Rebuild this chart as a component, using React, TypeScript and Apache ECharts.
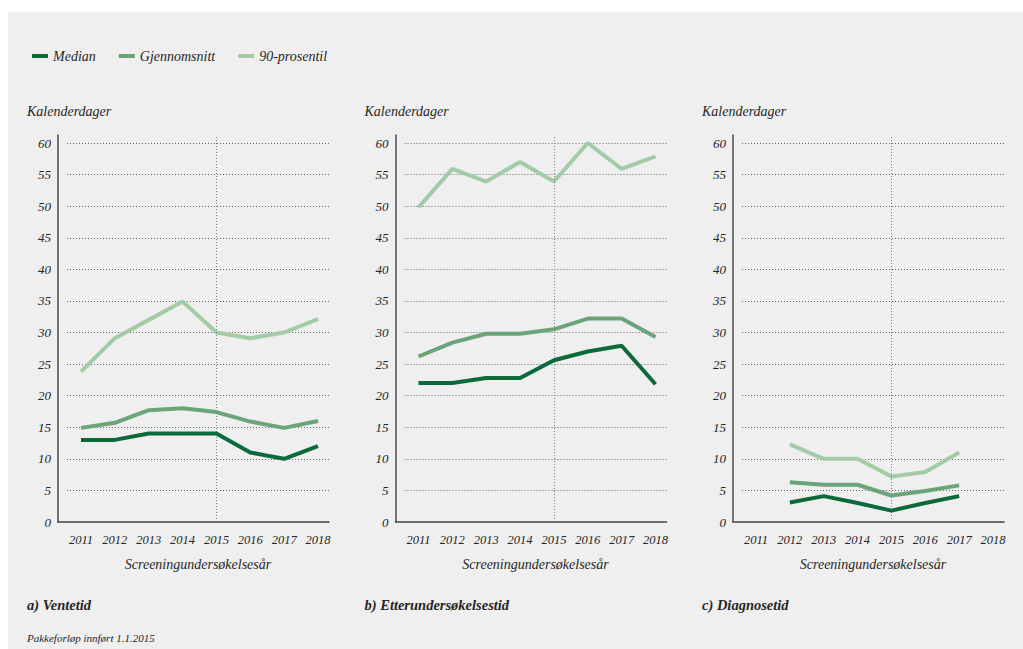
import React, { useEffect, useRef } from "react";
import * as echarts from "echarts";

// ---- data ----
const years = [2011, 2012, 2013, 2014, 2015, 2016, 2017, 2018];
const seriesNames = ["Median", "Gjennomsnitt", "90-prosentil"];

const ventetidMedian = [13, 13, 14, 14, 14, 11, 10, 12];
const ventetidSnitt = [14.9, 15.7, 17.7, 18.0, 17.4, 15.9, 14.9, 16.0];
const ventetid90 = [23.8, 29.1, 32, 34.9, 30, 29.1, 30, 32.1];

const etterMedian = [22, 22, 22.8, 22.8, 25.6, 27, 27.9, 21.8];
const etterSnitt = [26.2, 28.4, 29.8, 29.8, 30.5, 32.2, 32.2, 29.3];
const etter90 = [49.8, 55.9, 53.9, 57, 53.9, 60, 55.9, 57.9];

const diagMedian = [null, 3.1, 4.1, 3.0, 1.8, 3.0, 4.1, null];
const diagSnitt = [null, 6.3, 5.9, 5.9, 4.2, 4.9, 5.8, null];
const diag90 = [null, 12.3, 10, 10, 7.2, 7.9, 11, null];

const panelTitles = ["a) Ventetid", "b) Etterundersøkelsestid", "c) Diagnosetid"];
const yAxisTitle = "Kalenderdager";
const xAxisTitle = "Screeningundersøkelsesår";
const footnote = "Pakkeforløp innført 1.1.2015";
const reformYear = 2015;
const yMax = 60;
const yStep = 5;

// ---- style ----
const colors = ["#0b6a3a", "#6ca479", "#a4cba8"];
const FONT = "'Liberation Serif', 'DejaVu Serif', serif";
const TEXT = "#262626";
const BG = "#efefef";

export default function App() {
  const ref = useRef<HTMLDivElement>(null);

  useEffect(() => {
    if (!ref.current) return;
    const chart = echarts.init(ref.current, null, { renderer: "svg" });

    const OX = 8;
    const OY = 12;
    const axisXs = [58, 395.5, 733];
    const pxPerYear = 33.86;
    const xMin = years[0] - 23 / pxPerYear;
    const xMax = years[years.length - 1] + 11 / pxPerYear;
    const gridATop = 135 - OY;
    const gridBTop = 143 - OY;
    const gridBottomPage = 522 - OY;
    const hA = gridBottomPage - gridATop;
    const hB = gridBottomPage - gridBTop;
    const yMaxA = (yMax * hA) / hB;

    const panelData = [
      [ventetidMedian, ventetidSnitt, ventetid90],
      [etterMedian, etterSnitt, etter90],
      [diagMedian, diagSnitt, diag90],
    ];

    const grid: any[] = [];
    const xAxis: any[] = [];
    const yAxis: any[] = [];
    const series: any[] = [];
    const graphic: any[] = [];

    axisXs.forEach((X, i) => {
      const a = 2 * i;
      const b = 2 * i + 1;
      grid.push({ left: X - OX, top: gridATop, width: 271, height: hA });
      grid.push({ left: X + 9 - OX, top: gridBTop, width: 262, height: hB });

      xAxis.push({
        type: "value",
        gridIndex: a,
        min: xMin,
        max: xMax,
        axisLine: { show: true, onZero: false, lineStyle: { color: "#4a4a4a", width: 1.5 } },
        axisTick: { show: false },
        splitLine: { show: false },
        axisLabel: {
          customValues: years,
          formatter: (v: number) => String(Math.round(v)),
          margin: 11,
          fontFamily: FONT,
          fontStyle: "italic",
          fontSize: 12.5,
          color: TEXT,
        },
      });
      xAxis.push({
        type: "value",
        gridIndex: b,
        min: xMin,
        max: xMax,
        axisLine: { show: false },
        axisTick: { show: false },
        splitLine: { show: false },
        axisLabel: { show: false },
        name: xAxisTitle,
        nameLocation: "middle",
        nameGap: 35,
        nameTextStyle: { fontFamily: FONT, fontStyle: "italic", fontSize: 14, color: TEXT },
      });

      yAxis.push({
        type: "value",
        gridIndex: a,
        min: 0,
        max: yMaxA,
        axisLine: { show: true, lineStyle: { color: "#4a4a4a", width: 1.5 } },
        axisTick: { show: false },
        axisLabel: { show: false },
        splitLine: { show: false },
      });
      yAxis.push({
        type: "value",
        gridIndex: b,
        min: 0,
        max: yMax,
        interval: yStep,
        axisLine: { show: false },
        axisTick: { show: false },
        splitLine: { show: true, lineStyle: { type: [1, 2], color: "#666666", width: 1 } },
        axisLabel: {
          margin: 16,
          fontFamily: FONT,
          fontStyle: "italic",
          fontSize: 13,
          color: TEXT,
        },
      });

      const arrs = panelData[i];
      [2, 1, 0].forEach((k, idx) => {
        const s: any = {
          type: "line",
          name: seriesNames[k],
          xAxisIndex: a,
          yAxisIndex: a,
          data: years.map((y, j) => [y, arrs[k][j]]),
          showSymbol: false,
          symbol: "none",
          color: colors[k],
          lineStyle: { color: colors[k], width: 4 },
          z: 3 + idx,
        };
        if (idx === 0) {
          s.markLine = {
            silent: true,
            symbol: "none",
            label: { show: false },
            lineStyle: { type: [1, 2], color: "#808080", width: 1 },
            data: [{ xAxis: reformYear }],
          };
        }
        series.push(s);
      });

      graphic.push({
        type: "text",
        left: X - 31 - OX,
        top: 104 - OY,
        style: { text: yAxisTitle, fontFamily: FONT, fontStyle: "italic", fontSize: 14, fill: TEXT },
      });
      graphic.push({
        type: "text",
        left: X - 31 - OX,
        top: 597 - OY,
        style: {
          text: panelTitles[i],
          fontFamily: FONT,
          fontStyle: "italic",
          fontWeight: "bold",
          fontSize: 14.5,
          fill: TEXT,
        },
      });
    });

    graphic.push({
      type: "text",
      left: 27 - OX,
      top: 632 - OY,
      style: { text: footnote, fontFamily: FONT, fontStyle: "italic", fontSize: 11, fill: TEXT },
    });

    chart.setOption({
      animation: false,
      backgroundColor: BG,
      legend: {
        left: 27 - OX,
        top: 44 - OY,
        icon: "rect",
        itemWidth: 16,
        itemHeight: 4,
        itemGap: 23,
        data: seriesNames,
        textStyle: { fontFamily: FONT, fontStyle: "italic", fontSize: 14, color: TEXT },
      },
      grid,
      xAxis,
      yAxis,
      series,
      graphic,
    });

    return () => chart.dispose();
  }, []);

  return (
    <div
      style={{ position: "fixed", left: 8, top: 12, width: 1015, height: 637, background: BG }}
    >
      <div ref={ref} style={{ width: 1015, height: 637 }} />
    </div>
  );
}
